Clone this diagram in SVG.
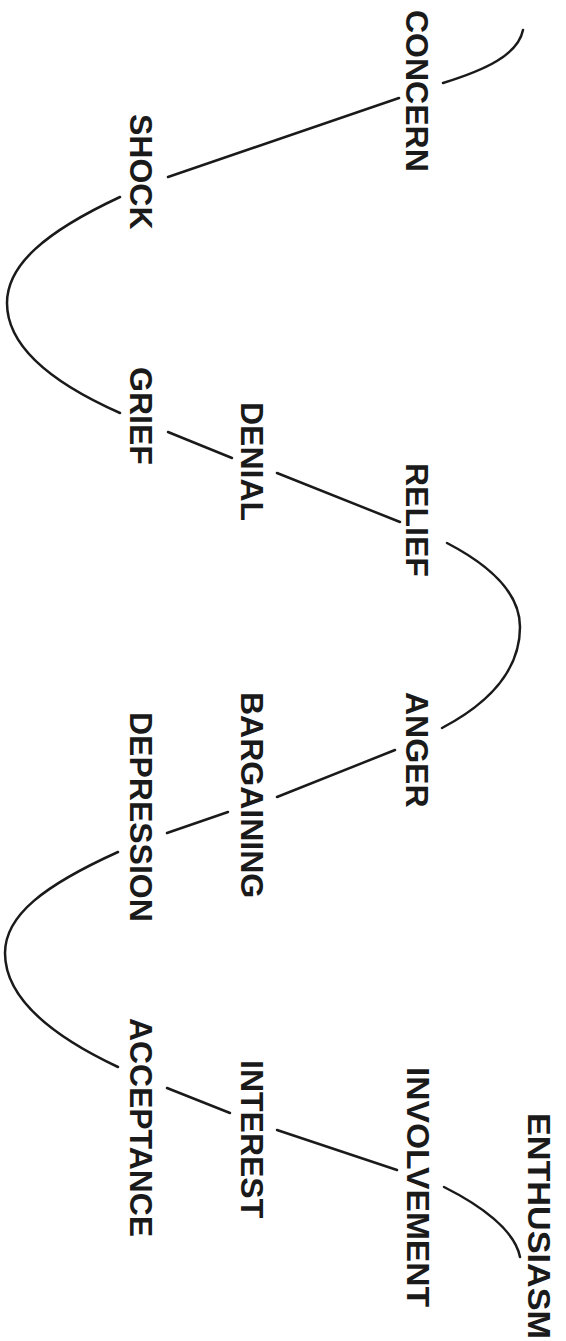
<svg xmlns="http://www.w3.org/2000/svg" width="566" height="1341" viewBox="0 0 566 1341">
<style>
.lbl{font-family:"Liberation Sans",Arial,sans-serif;font-weight:bold;font-size:32px;fill:#1a1a1a}
.wave{fill:none;stroke:#1a1a1a;stroke-width:2.5;stroke-linecap:round}
</style>
<rect width="566" height="1341" fill="#ffffff"/>
<g id="connectors" class="wave">
<path d="M523,30 C518,55 485,70 443,83"/>
<path d="M399,98 L168,177"/>
<path d="M120,197 C45,232 7,265 7,303 C7,345 50,382 120,413"/>
<path d="M168,432 L232,458"/>
<path d="M277,473 L400,522"/>
<path d="M447,543 C495,568 520,595 520,627 C520,667 495,700 442,728"/>
<path d="M395,750 L277,797"/>
<path d="M228,812 L167,833"/>
<path d="M118,852 C45,885 5,915 5,953 C5,997 50,1035 118,1067"/>
<path d="M167,1088 L230,1113"/>
<path d="M277,1130 L397,1170"/>
<path d="M444,1187 C480,1205 515,1230 520,1257"/>
</g>
<g id="concern"><text class="lbl" transform="translate(406,10) rotate(90)">CONCERN</text></g>
<g id="shock"><text class="lbl" transform="translate(130,114) rotate(90)">SHOCK</text></g>
<g id="grief"><text class="lbl" transform="translate(130,367) rotate(90)">GRIEF</text></g>
<g id="denial"><text class="lbl" transform="translate(241,402) rotate(90)">DENIAL</text></g>
<g id="relief"><text class="lbl" transform="translate(406,463) rotate(90)">RELIEF</text></g>
<g id="anger"><text class="lbl" transform="translate(406,692) rotate(90)">ANGER</text></g>
<g id="bargaining"><text class="lbl" transform="translate(241,692) rotate(90)">BARGAINING</text></g>
<g id="depression"><text class="lbl" transform="translate(130,712) rotate(90)">DEPRESSION</text></g>
<g id="acceptance"><text class="lbl" transform="translate(130,1018) rotate(90)" textLength="219" lengthAdjust="spacingAndGlyphs">ACCEPTANCE</text></g>
<g id="interest"><text class="lbl" transform="translate(241,1060) rotate(90)">INTEREST</text></g>
<g id="involvement"><text class="lbl" transform="translate(407,1067) rotate(90)" textLength="240" lengthAdjust="spacingAndGlyphs">INVOLVEMENT</text></g>
<g id="enthusiasm"><text class="lbl" transform="translate(528,1113) rotate(90)" textLength="226" lengthAdjust="spacingAndGlyphs">ENTHUSIASM</text></g>
</svg>
